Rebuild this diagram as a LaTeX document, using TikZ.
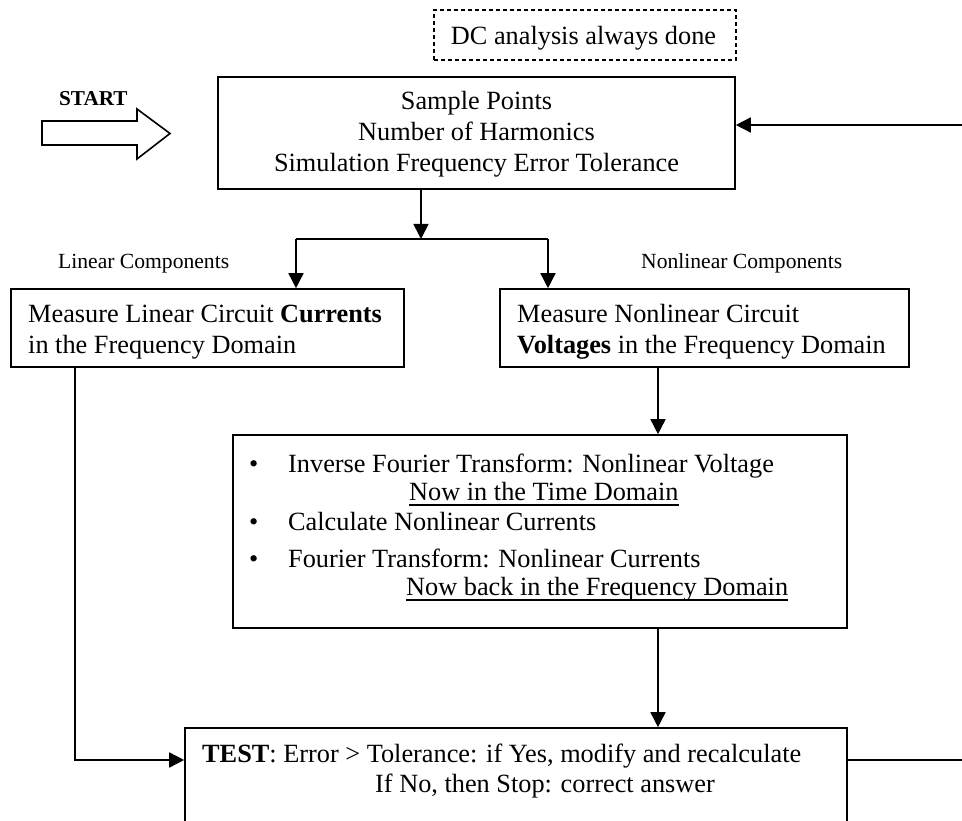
\documentclass[tikz,border=0pt]{standalone}
\usepackage{fontspec}
\setmainfont{Liberation Serif}
\usetikzlibrary{arrows.meta}
\tikzset{
  box/.style={draw, line width=1.6pt, inner sep=0pt, minimum width=#1},
  dashbox/.style={draw, line width=1.3pt, dash pattern=on 4pt off 3pt, inner sep=0pt},
  txt/.style={inner sep=0pt, anchor=base west, font=\fontsize{26.3}{31}\selectfont},
  ctxt/.style={inner sep=0pt, anchor=base, font=\fontsize{26.3}{31}\selectfont},
  small/.style={inner sep=0pt, anchor=base west, font=\fontsize{21.6}{25}\selectfont},
  conn/.style={line width=1.6pt},
  arr/.style={line width=1.6pt, -{Triangle[length=15pt,width=15pt]}},
  ul/.style={line width=1.3pt},
  bigarrow/.style={draw, line width=1.6pt, fill=white, line join=miter}
}
\begin{document}
\begin{tikzpicture}[x=1pt,y=-1pt]
\useasboundingbox (0,0) rectangle (962,821);
\clip (0,0) rectangle (962,821);

% boxes
\node[dashbox, minimum width=302pt, minimum height=50pt] (dc) at (585,35) {};
\node[box=517pt, minimum height=112pt] (top) at (476.5,133) {};
\node[box=393pt, minimum height=78pt] (lin) at (207.5,328) {};
\node[box=409pt, minimum height=78pt] (nl) at (704.5,328) {};
\node[box=614pt, minimum height=193pt] (mid) at (540,531.5) {};
\node[box=662pt, minimum height=132pt] (test) at (516,794) {};

% texts
\node[ctxt] (dct) at (583.5,45) {DC analysis always done};
\node[ctxt] (t1) at (476.5,110) {Sample Points};
\node[ctxt] (t2) at (476.5,141) {Number of Harmonics};
\node[ctxt] (t3) at (476.5,172) {Simulation Frequency Error Tolerance};

\node[inner sep=0pt, anchor=base west, font=\fontsize{21.2}{25}\selectfont\bfseries] (st) at (59,106) {START};

\node[small] (ll) at (58,269) {Linear Components};
\node[small] (nll) at (641,269) {Nonlinear Components};

\node[txt] (l1) at (28,323) {Measure Linear Circuit \textbf{Currents}};
\node[txt] (l2) at (28,353) {in the Frequency Domain};
\node[txt] (n1) at (517,323) {Measure Nonlinear Circuit};
\node[txt] (n2) at (517,353) {\textbf{Voltages} in the Frequency Domain};

\node[txt] (b1) at (249,472) {\textbullet};
\node[txt] (m1) at (288,472) {Inverse Fourier Transform: Nonlinear Voltage};
\node[txt] (m2) at (409,500) {Now in the Time Domain};
\node[txt] (b2) at (249,530) {\textbullet};
\node[txt] (m3) at (288,530) {Calculate Nonlinear Currents};
\node[txt] (b3) at (249,567) {\textbullet};
\node[txt] (m4) at (288,567) {Fourier Transform: Nonlinear Currents};
\node[txt] (m5) at (406,595) {Now back in the Frequency Domain};
\draw[ul] ([yshift=-5pt]m2.base west) -- ([yshift=-5pt]m2.base east);
\draw[ul] ([yshift=-5pt]m5.base west) -- ([yshift=-5pt]m5.base east);

\node[txt] (x1) at (202,762) {\textbf{TEST}: Error > Tolerance: if Yes, modify and recalculate};
\node[txt] (x2) at (375,792) {If No, then Stop: correct answer};

% START hollow arrow
\draw[bigarrow] (42,121) -- (137,121) -- (137,109) -- (170,133.5) -- (137,159) -- (137,145) -- (42,145) -- cycle;

% connectors
\coordinate (j) at (421,239);
\coordinate (jl) at (296,239);
\coordinate (jr) at (548,239);
\coordinate (cx) at (658,0);
\coordinate (lx) at (75,0);
\coordinate (ty) at (0,760);
\coordinate (r0) at (962,125);
\coordinate (r1) at (962,760);

\draw[arr] (top.south -| j) -- (j);
\draw[conn] (jl) -- (jr);
\draw[arr] (jl) -- (lin.north -| jl);
\draw[arr] (jr) -- (nl.north -| jr);
\draw[arr] (nl.south -| cx) -- (mid.north -| cx);
\draw[arr] (mid.south -| cx) -- (test.north -| cx);
\draw[arr] (lin.south -| lx) |- (test.west |- ty);
\draw[conn] (test.east |- ty) -- (r1);
\draw[arr] (r0) -- (top.east |- r0);
\end{tikzpicture}
\end{document}
